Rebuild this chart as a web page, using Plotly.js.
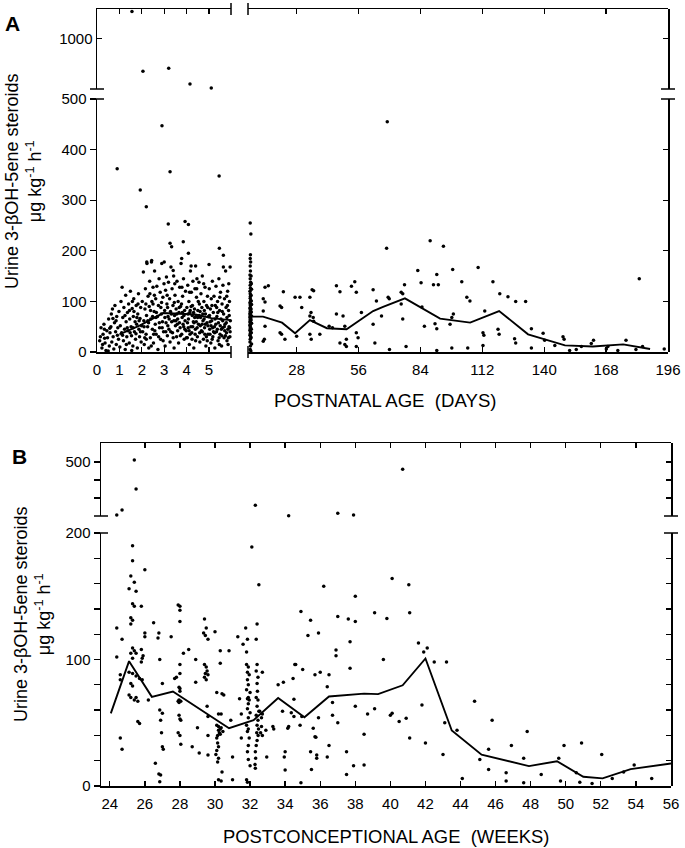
<!DOCTYPE html>
<html><head><meta charset="utf-8">
<script src="https://cdn.plot.ly/plotly-3.0.1.min.js"></script>
<style>html,body{margin:0;padding:0;background:#fff}#chart{width:685px;height:848px}</style>
</head><body><div id="chart"></div>
<script>
// ===== Panel A: postnatal days 0-6 (individual samples) [day, value] =====
const earlyDaysPts = [
[0.12,22],[0.18,48],[0.22,8],[0.27,35],[0.31,55],[0.36,18],[0.4,3],[0.44,42],[0.47,28],[0.52,65],[0.55,12],[0.58,38],[0.62,50],[0.66,20],[0.69,85],[0.72,30],[0.75,6],[0.78,58],[0.8,92],[0.83,40],[0.86,15],[0.88,70],[0.91,33],[0.93,48],[0.96,25],[0.98,80],[0.15,30],[0.33,45],[0.5,2],[0.64,75],[0.85,62],[0.25,15],
[1.02,10],[1.04,52],[1.07,100],[1.1,38],[1.12,128],[1.15,68],[1.18,22],[1.2,88],[1.23,45],[1.26,5],[1.28,112],[1.3,60],[1.33,30],[1.36,78],[1.38,42],[1.41,95],[1.44,18],[1.46,65],[1.49,120],[1.52,50],[1.54,32],[1.57,86],[1.6,12],[1.62,70],[1.64,105],[1.67,40],[1.7,60],[1.72,25],[1.75,92],[1.77,55],[1.8,8],[1.82,75],[1.85,115],[1.87,45],[1.9,30],[1.92,66],[1.95,88],[1.97,20],[1.99,52],[1.25,72],[1.45,82],[1.65,80],[1.78,68],[1.55,3],[1.88,62],[1.35,48],
[2.02,100],[2.04,40],[2.07,158],[2.09,62],[2.11,15],[2.14,85],[2.16,125],[2.19,35],[2.21,72],[2.23,175],[2.26,50],[2.28,110],[2.31,8],[2.33,90],[2.35,140],[2.38,28],[2.4,65],[2.43,178],[2.45,100],[2.47,45],[2.5,128],[2.52,18],[2.55,80],[2.57,160],[2.6,55],[2.62,105],[2.64,35],[2.67,130],[2.7,70],[2.72,5],[2.74,92],[2.77,145],[2.79,48],[2.82,118],[2.84,25],[2.87,75],[2.89,175],[2.92,60],[2.94,108],[2.97,40],[2.99,135],[2.1,50],[2.3,58],[2.5,95],[2.65,78],[2.85,88],[2.95,22],[2.2,25],[2.42,12],[2.58,42],[2.75,30],[2.36,115],[2.48,70],
[3.02,82],[3.04,12],[3.06,122],[3.08,58],[3.1,148],[3.12,95],[3.14,32],[3.17,70],[3.19,138],[3.21,45],[3.24,105],[3.26,20],[3.28,80],[3.3,168],[3.33,60],[3.35,125],[3.37,38],[3.39,92],[3.42,150],[3.44,8],[3.46,72],[3.48,112],[3.5,52],[3.53,85],[3.55,30],[3.57,140],[3.6,65],[3.62,100],[3.64,18],[3.66,78],[3.69,128],[3.71,48],[3.73,90],[3.75,175],[3.78,35],[3.8,68],[3.82,110],[3.84,55],[3.86,145],[3.89,25],[3.91,82],[3.93,62],[3.95,120],[3.98,42],[3.15,88],[3.32,75],[3.52,62],[3.68,58],[3.88,72],[3.4,28],[3.6,42],[3.22,65],[3.77,95],[3.07,40],[3.45,98],
[4.01,88],[4.03,28],[4.05,132],[4.08,65],[4.1,100],[4.12,15],[4.14,78],[4.17,160],[4.19,50],[4.21,118],[4.23,38],[4.26,92],[4.28,140],[4.3,60],[4.32,8],[4.35,85],[4.37,125],[4.39,45],[4.41,70],[4.44,108],[4.46,145],[4.48,30],[4.5,82],[4.53,55],[4.55,138],[4.57,95],[4.59,20],[4.62,68],[4.64,115],[4.66,42],[4.68,88],[4.7,150],[4.73,62],[4.75,25],[4.77,100],[4.8,48],[4.82,128],[4.84,75],[4.86,12],[4.89,92],[4.91,58],[4.93,110],[4.95,35],[4.98,70],[4.07,48],[4.25,72],[4.43,60],[4.6,80],[4.78,65],[4.95,52],[4.15,35],[4.4,22],[4.7,40],[4.52,100],[4.33,58],[4.88,30],[4.2,90],
[5.01,125],[5.03,45],[5.06,85],[5.08,18],[5.1,105],[5.12,62],[5.15,140],[5.17,30],[5.19,78],[5.22,110],[5.24,50],[5.26,8],[5.28,92],[5.31,130],[5.33,40],[5.35,70],[5.38,100],[5.4,22],[5.42,58],[5.44,145],[5.47,82],[5.49,35],[5.51,118],[5.53,65],[5.56,12],[5.58,95],[5.6,48],[5.62,132],[5.65,75],[5.67,28],[5.69,105],[5.71,55],[5.74,160],[5.76,88],[5.78,38],[5.8,68],[5.83,120],[5.85,15],[5.87,82],[5.89,50],[5.91,100],[5.93,30],[5.95,62],[5.2,40],[5.45,28],[5.7,42],[5.9,72],[5.05,60],[5.3,55],[5.55,45],[5.8,22],[5.64,168],[5.88,135],
[0.34,27],[0.57,47],[0.71,66],[1.14,33],[1.31,15],[1.48,38],[1.61,48],[1.74,36],[1.94,40],[2.13,28],[2.27,62],[2.39,82],[2.53,35],[2.63,68],[2.78,58],[2.91,48],[3.03,68],[3.16,52],[3.29,40],[3.43,62],[3.56,75],[3.67,88],[3.81,78],[3.92,45],[4.04,58],[4.16,82],[4.27,50],[4.38,35],[4.49,68],[4.61,52],[4.72,75],[4.83,55],[4.94,88],[5.04,35],[5.16,48],[5.27,65],[5.39,78],[5.5,52],[5.61,62],[5.73,32],[5.84,45],[5.94,40],
[3.58,55],[3.72,32],[3.87,50],[3.99,28],[4.11,42],[4.24,25],[4.36,68],[4.47,48],[4.58,38],[4.69,55],[4.81,35],[4.92,22],[5.02,72],[5.14,25],[5.25,38],[5.37,45],[5.46,15],[5.57,32],[5.68,50],[5.77,58],[5.86,28],[5.92,48],[4.06,75],[4.31,78],[4.56,72],[4.79,82],[5.09,52],[5.34,88],[5.59,80],[5.82,92],
[2.18,95],[2.56,112],[2.88,98],[3.13,112],[3.47,135],[3.79,128],[4.13,118],[4.45,125],[4.76,135],[5.13,92],[5.48,108],[5.79,110],[1.58,100],[1.83,95],
[3.18,253],[3.93,258],[4.08,252],[3.26,215],[3.33,208],[3.85,218],[3.78,185],[4.08,195],[5.46,205],[5.64,191],[2.22,178],[2.44,181],[3.0,178],[3.4,161],[4.2,170],[4.4,170],[5.0,173],[5.94,168],
[0.9,362],[1.93,320],[2.2,287],[2.9,447],[3.26,356],[5.45,348],
[2.05,676],[3.2,706],[4.15,549],[5.1,510],[1.56,1270]
];
// ===== Panel A: postnatal days 7-196 [day, value] =====
const laterDaysPts = [
[7,5],[7.1,12],[6.9,20],[7,25],[7.2,30],[6.9,33],[7,36],[7.1,40],[6.9,43],[7,46],[7.2,48],[7,50],[6.9,53],[7.1,55],[7,58],[6.9,60],[7.1,62],[7,64],[7.2,66],[6.9,68],[7,70],[7.1,72],[7,74],[6.9,76],[7.2,78],[7,80],[7.1,83],[6.9,86],[7,88],[7.1,92],[7,95],[6.9,98],[7.2,102],[7,106],[7.1,110],[7,115],[6.9,120],[7.1,126],[7,132],[7.2,138],[7,145],[6.9,152],[7.1,160],[7,170],[7.2,178],[7,185],[7.1,192],[7.3,233],[7,255],[7.3,2],
[7.5,45],[7.6,57],[7.4,63],[7.6,71],[7.5,79],[7.4,85],[7.6,94],[7.5,101],[7.4,112],[7.6,124],[7.5,38],[7.4,28],[7.6,16],[7.5,135],[7.4,150],
[15.2,131],[12.9,105],[13.7,99],[12.9,81],[13.7,51],[12.9,21],[13.4,25],[13.7,128],
[20.5,91],[21.2,88],[22,119],[20.5,38],[21.2,35],[22.7,25],
[27.3,108],[29.5,108],[30.3,88],[28,31],[34,108],[34.5,78],[34,71],[35,123],[35.5,68],[35.7,61],[34,35],[38.5,35],[34.6,25],[35.7,121],
[46,131],[47.6,119],[42.7,51],[44.2,48],[46,75],[49,71],[47.6,18],[49.8,15],[50.5,11],[49.8,51],[50.5,25],
[52.8,130],[54.3,139],[55,118],[55,38],[55.8,28],[57.3,78],[55,11],
[62.6,123],[62.6,55],[63.4,18],[64.1,101],[66.4,71],[68.7,205],[69.4,108],[69.9,105],[70,5],
[75.3,118],[76,115],[75.3,95],[76,65],[76.8,133],[77.5,11],
[82.8,161],[84.3,137],[84.7,89],[85.8,51],[88.4,220],[89.9,133],[92.1,133],[91.4,153],[90.6,56],[91.4,46],[91.4,3],
[94.4,209],[97.4,55],[98.9,75],[98.2,68],[98.6,163],[98.2,8],
[102.7,139],[105,108],[106.4,101],[105.4,8],[110.1,167],[112.3,38],[112.7,33],[112.3,13],[113.1,81],
[116.8,139],[119.1,45],[119.6,35],[119.9,115],[123.6,109],[126.6,26],[127.1,18],[127.1,100],[131.6,100],
[134.2,46],[134.2,8],[139.5,37],[140.2,23],[144.8,13],[148.5,30],[149,25],[151.5,3],[154.5,5],[156.8,11],
[161.3,17],[162.3,23],[168.1,6],[168.8,11],[173.3,3],[177,23],[181.5,5],[183,145],[184.5,11],[194.3,6],
[69,455]
];
// ===== Panel A: mean curves =====
const meanEarlyDays = [1.0, 1.9, 2.95, 3.6, 4.4, 5.1, 5.95];
const meanEarlyVals = [35, 52, 77, 76, 74, 67, 63];
const meanLaterDays = [7, 12.8, 21.4, 27.3, 34, 41.7, 50.6, 62.6, 67.1, 77, 92.9, 106.5, 119.6, 132.7, 149.4, 162, 175.7, 187.9];
const meanLaterVals = [70, 70, 58, 37, 63, 47, 45, 81, 89, 106, 66, 58, 81, 35, 13, 11, 15, 6];

// ===== Panel B: postconceptional weeks [week, value] =====
const pcaPts = [
[24.4,125],[24.7,116],[24.4,102],[24.6,88],[24.6,84],[24.6,38],[24.7,29],
[25.3,190],[25.3,178],[25.2,166],[25.4,161],[25.1,156],[25.5,154],[25.3,144],[25.4,142],[25.8,142],[25.2,133],[25.3,131],[25.2,128],[26.0,171],
[25.3,109],[25.4,107],[25.2,105],[25.3,101],[25.5,105],[25.1,90],[25.3,89],[25.5,87],
[26.0,121],[26.0,118],[25.8,108],[25.85,101],[25.8,98],[25.9,103],[25.7,85],[25.85,84],
[25.2,81],[25.3,79],[25.5,70],[25.2,70],[25.4,68],[25.6,67],[25.1,72],[25.6,51],[25.7,49.5],[26.2,68],
[26.5,129],[26.8,121],[26.75,117],[26.85,100],[27.0,81],[26.85,60],[27.0,57.5],[26.9,52],[26.95,42],[27.0,31],[27.05,29],[26.6,18],[26.8,9.5],[26.9,8.7],[26.85,3.4],
[27.5,118],[27.7,85],[27.8,86],[27.9,143],[28.0,142],[28.0,139],[28.0,130],[28.0,96],[28.0,89],[27.95,78],[28.0,77],[28.0,75],[27.95,68],[27.9,67],[28.05,67],[27.95,66],[27.95,56],[28.0,53],[28.05,52],[27.9,42],[28.0,40],[28.05,33],
[28.2,105],[28.5,108],[28.7,31],[28.9,100],[28.9,82],[29.0,46],[29.1,26],
[29.4,132],[29.5,125],[29.6,116],[29.35,121],[29.45,119],[29.4,96],[29.5,94],[29.55,91],[29.45,89],[29.4,86],[29.5,84],[29.6,88],[29.55,63],[29.6,55],[29.6,40],[29.6,24.5],
[30.0,122],[30.1,74],[30.4,73],[30.5,72],[30.2,57],[30.35,57],
[30.1,48],[30.2,47],[30.3,45],[30.35,46],[30.2,44],[30.45,43],[30.25,42],[30.3,41],[30.15,40],[30.1,38],[30.15,34],[30.2,31],[30.1,28],[30.05,25],[30.2,22],[30.15,19],
[30.3,107],[30.3,97],[30.2,5],[30.35,4],[30.4,11],[30.8,107],[30.9,52],[31.0,23],[31.0,5],
[31.3,118],[31.4,69],[31.5,57],[31.5,38],[31.6,112],[31.75,125],[31.8,106],[31.85,116],
[31.8,96],[31.9,94],[31.85,90],[31.95,88],[31.85,84],[31.9,80],[31.8,76],[32.0,74],[31.9,70],[31.85,69],[31.95,68],[31.9,65],[31.85,61],[32.0,58],[31.9,54],[31.8,48],[31.9,45],[31.85,43],[31.95,38],[31.9,32],[31.85,27],[31.9,21],[32.0,16],[31.8,5],[31.85,3],
[32.1,189],[32.5,159],[32.4,128],[32.35,116],[32.4,96],[32.35,91],[32.45,86],[32.4,81],[32.42,75],[32.35,70],[32.45,68],[32.4,63],[32.5,59],[32.35,56],[32.45,52],[32.4,48],[32.48,45],[32.38,42],[32.46,40],[32.4,36],[32.35,32],[32.3,27],[32.32,22],[32.28,17],[32.3,14],
[32.55,59],[32.65,54],[32.7,57],[32.65,47],[32.6,42],[32.7,40],[32.7,90],[32.9,44],[32.95,23],[33.3,47],[33.35,45],[33.6,80],[33.9,82],[33.85,59],[34.0,27],[34.6,96],
[34.45,85],[34.5,68.5],[34.35,58],[34.5,55],[34.2,47],[34.15,45.6],[33.95,23],[34.0,12.6],[34.9,2.6],
[34.9,138],[35.45,131],[37.0,134],[37.6,132],[38.0,130],[39.1,137],[39.8,132.5],[41.1,137],
[36.2,158],[40.1,164],[41.05,159],[38.0,150],
[35.3,119],[35.9,121],[37.7,114],[36.9,107.5],[36.9,103],[41.6,113],[41.9,106],[42.1,109],[42.5,98],[43.2,98],[39.6,100],[37.7,93],[34.55,96],[35.0,92],[35.7,88],[36.0,90],[36.5,88],[36.4,78.5],
[34.95,55],[34.85,48],[35.9,54],[35.6,45.6],[35.7,39],[35.75,38.5],[36.7,66],[36.7,56],[37.0,50],[36.5,32],[36.4,23],[35.45,27],[35.8,24.5],[35.8,22],[35.5,13],
[38.0,63],[38.5,41],[38.5,16.6],[37.9,16],[37.5,27],[37.5,9],[38.7,57],[39.1,61],[40.0,56],[40.1,57.5],[40.5,51],[40.9,53.5],[41.1,38],[41.8,64],[42.0,34],[43.0,25],[43.1,50],[43.8,44],[44.1,6],[44.8,67],[45.8,52],[45.1,21],[45.6,29],[45.6,13],[46.6,10.5],[46.6,4],[46.9,32],[47.6,22],[47.6,2.6],[47.8,43],[48.6,9],[49.6,22],[49.7,4],[49.9,32],[50.6,10.5],[50.8,3],[50.9,34],[51.5,2],[52.05,25],[52.65,6],[53.3,11],[53.9,16.6],[54.9,6],
[24.4,205],[24.7,233],[25.4,511],[25.5,350],[32.3,260],[34.2,202],[37.0,215],[37.9,205],[40.7,459]
];
// ===== Panel B: mean curve =====
const meanPcaWeeks = [24.06, 25.1, 26.4, 27.6, 30.8, 32.2, 33.6, 35.1, 36.5, 38.5, 39.3, 40.7, 42.0, 43.5, 45.2, 47.9, 49.5, 51.0, 52.1, 53.7, 56.0];
const meanPcaVals  = [57.4, 98.7, 70.5, 74.7, 45.7, 52, 69.5, 54.3, 70.8, 73, 72.6, 79.6, 100.8, 43.9, 24.8, 15.7, 19.6, 7.3, 6, 13.3, 17.8];

// ===== tick labels =====
const earlyDayTicks = [0,1,2,3,4,5];
const laterDayTicks = [28,56,84,112,140,168,196];
const aLowTicks = [0,100,200,300,400,500];
const aHighTicks = [1000];
const weekTicks = [24,26,28,30,32,34,36,38,40,42,44,46,48,50,52,54,56];
const bLowTicks = [0,20,40,60,80,100,120,140,160,180,200];
const bLowLabels = ['0','','','','','100','','','','','200'];
const bHighTicks = [300,400,500];
const bHighLabels = ['','','500'];

// ===== geometry =====
const W = 685, H = 848;
const px = v => v / W, py = v => 1 - v / H;
const XL = [px(97), px(231)], XR = [px(248), px(668)];
const YAL = [py(352), py(99)], YAU = [py(89), py(9)];
const XB = [px(101), px(671)];
const YBL = [py(786), py(533)], YBU = [py(516), py(443)];
const ALOW_MAX = 500, BLOW_MAX = 200;

const FONT = 'Liberation Sans, Arial, Helvetica, sans-serif';
const xs = p => p.map(d => d[0]), ys = p => p.map(d => d[1]);
const dots = (pts, xa, ya) => ({type:'scatter', mode:'markers', x: xs(pts), y: ys(pts), xaxis: xa, yaxis: ya,
  marker:{size:3.5, color:'#000'}, cliponaxis:false, hoverinfo:'skip', showlegend:false});
const curve = (x, y, xa, ya) => ({type:'scatter', mode:'lines', x, y, xaxis: xa, yaxis: ya,
  line:{color:'#000', width:1.9}, hoverinfo:'skip', showlegend:false});
const frame = (xa, ya) => ({type:'scatter', mode:'markers', x:[], y:[], xaxis: xa, yaxis: ya, hoverinfo:'skip', showlegend:false});

const data = [
  // empty frames that carry the top and right-hand axes (drawn first)
  frame('x3', 'y2'), frame('x4', 'y2'), frame('x2', 'y3'), frame('x2', 'y4'),
  frame('x6', 'y6'), frame('x5', 'y7'), frame('x5', 'y8'),
  dots(earlyDaysPts.filter(d => d[1] <= ALOW_MAX), 'x', 'y'),
  dots(earlyDaysPts.filter(d => d[1] > ALOW_MAX), 'x', 'y2'),
  dots(laterDaysPts.filter(d => d[1] <= ALOW_MAX), 'x2', 'y'),
  dots(laterDaysPts.filter(d => d[1] > ALOW_MAX), 'x2', 'y2'),
  curve(meanEarlyDays, meanEarlyVals, 'x', 'y'),
  curve(meanLaterDays, meanLaterVals, 'x2', 'y'),
  dots(pcaPts.filter(d => d[1] <= BLOW_MAX), 'x5', 'y5'),
  dots(pcaPts.filter(d => d[1] > BLOW_MAX), 'x5', 'y6'),
  curve(meanPcaWeeks, meanPcaVals, 'x5', 'y5')
];

const base = {showline:true, linecolor:'#000', linewidth:1.5, showgrid:false, zeroline:false,
  ticks:'inside', ticklen:5, tickwidth:1.3, tickcolor:'#000', tickmode:'array', fixedrange:true,
  tickfont:{family:FONT, size:15, color:'#000'}};
const ax = o => Object.assign({}, base, o);
const ALR = [0, 500], AUR = [500, 1296], AXL = [0, 5.98], AXR = [6, 196];
const BXR = [23.5, 56], BLR = [0, 200], BUR = [200, 605];

const layout = {
  width: W, height: H, margin:{l:0, r:0, t:0, b:0}, paper_bgcolor:'#fff', plot_bgcolor:'rgba(0,0,0,0)',
  showlegend:false, font:{family:FONT, color:'#000'},
  // panel A
  xaxis:  ax({domain:XL, range:AXL, anchor:'y', tickvals:earlyDayTicks, ticklabelstandoff:3}),
  xaxis2: ax({domain:XR, range:AXR, anchor:'y', tickvals:laterDayTicks, ticklabelstandoff:3}),
  xaxis3: ax({domain:XL, range:AXL, anchor:'y2', side:'top', tickvals:[1,2,3,4,5], showticklabels:false}),
  xaxis4: ax({domain:XR, range:AXR, anchor:'y2', side:'top', tickvals:[28,56,84,112,140,168], showticklabels:false}),
  yaxis:  ax({domain:YAL, range:ALR, anchor:'x', tickvals:aLowTicks, ticks:'outside', ticklen:6}),
  yaxis2: ax({domain:YAU, range:AUR, anchor:'x', tickvals:aHighTicks, ticks:'inside', ticklen:5}),
  yaxis3: ax({domain:YAL, range:ALR, anchor:'x2', side:'right', tickvals:[100,200,300,400], showticklabels:false}),
  yaxis4: ax({domain:YAU, range:AUR, anchor:'x2', side:'right', tickvals:aHighTicks, showticklabels:false}),
  // panel B
  xaxis5: ax({domain:XB, range:BXR, anchor:'y5', tickvals:weekTicks, ticklabelstandoff:3}),
  xaxis6: ax({domain:XB, range:BXR, anchor:'y6', side:'top', tickvals:weekTicks.slice(1,-1), showticklabels:false}),
  yaxis5: ax({domain:YBL, range:BLR, anchor:'x5', tickvals:bLowTicks, ticktext:bLowLabels, ticks:'outside', ticklen:6}),
  yaxis6: ax({domain:YBU, range:BUR, anchor:'x5', tickvals:bHighTicks, ticktext:bHighLabels, ticks:'outside', ticklen:6}),
  yaxis7: ax({domain:YBL, range:BLR, anchor:'x5', side:'right', tickvals:bLowTicks.slice(1,-1), showticklabels:false}),
  yaxis8: ax({domain:YBU, range:BUR, anchor:'x5', side:'right', tickvals:bHighTicks, showticklabels:false}),
  shapes: [],
  annotations: []
};

// ---- axis-break marks ----
const LW = 1.5;
const spanPx = d => (d[1] - d[0]);
function hMark(xref, xFrac, halfPx, widthPx, yref, yFrac) {
  const f = halfPx / widthPx;
  return {type:'line', xref, yref, x0:xFrac - f, x1:xFrac + f, y0:yFrac, y1:yFrac, line:{color:'#000', width:LW}};
}
function vMark(xref, xFrac, yref, yFrac, halfPx, heightPx) {
  const f = halfPx / heightPx;
  return {type:'line', xref, yref, x0:xFrac, x1:xFrac, y0:yFrac - f, y1:yFrac + f, line:{color:'#000', width:LW}};
}
const wXL = spanPx(XL) * W, wXR = spanPx(XR) * W, wXB = spanPx(XB) * W;
const hAL = spanPx(YAL) * H, hAU = spanPx(YAU) * H;
layout.shapes.push(hMark('x domain', 0, 7, wXL, 'y domain', 1));
layout.shapes.push(hMark('x domain', 0, 7, wXL, 'y2 domain', 0));
layout.shapes.push(hMark('x2 domain', 1, 7, wXR, 'y domain', 1));
layout.shapes.push(hMark('x2 domain', 1, 7, wXR, 'y2 domain', 0));
layout.shapes.push(vMark('x domain', 1, 'y domain', 0, 6, hAL));
layout.shapes.push(vMark('x2 domain', 0, 'y domain', 0, 6, hAL));
layout.shapes.push(vMark('x domain', 1, 'y2 domain', 1, 6, hAU));
layout.shapes.push(vMark('x2 domain', 0, 'y2 domain', 1, 6, hAU));
layout.shapes.push(hMark('x5 domain', 0, 7, wXB, 'y5 domain', 1));
layout.shapes.push(hMark('x5 domain', 0, 7, wXB, 'y6 domain', 0));
layout.shapes.push(hMark('x5 domain', 1, 7, wXB, 'y5 domain', 1));
layout.shapes.push(hMark('x5 domain', 1, 7, wXB, 'y6 domain', 0));

// ---- texts ----
const yTitle = 'Urine 3-βOH-5ene steroids<br>μg kg<sup>-1</sup> h<sup>-1</sup>';
const ann = (x, y, text, size, extra) => Object.assign({xref:'paper', yref:'paper', x, y, text, showarrow:false,
  xanchor:'center', yanchor:'middle', font:{family:FONT, size, color:'#000'}}, extra || {});
layout.annotations.push(ann(px(12), py(23), '<b>A</b>', 21));
layout.annotations.push(ann(px(19), py(456), '<b>B</b>', 21));
layout.annotations.push(ann(px(23), py(182), yTitle, 18, {textangle:-90}));
layout.annotations.push(ann(px(32), py(615), yTitle, 18, {textangle:-90}));
layout.annotations.push(ann(px(385), py(400), 'POSTNATAL AGE\u00a0\u00a0(DAYS)', 18.6));
layout.annotations.push(ann(px(386), py(836), 'POSTCONCEPTIONAL AGE\u00a0\u00a0(WEEKS)', 18.4));

Plotly.newPlot('chart', data, layout, {staticPlot:true, displayModeBar:false});
</script></body></html>
